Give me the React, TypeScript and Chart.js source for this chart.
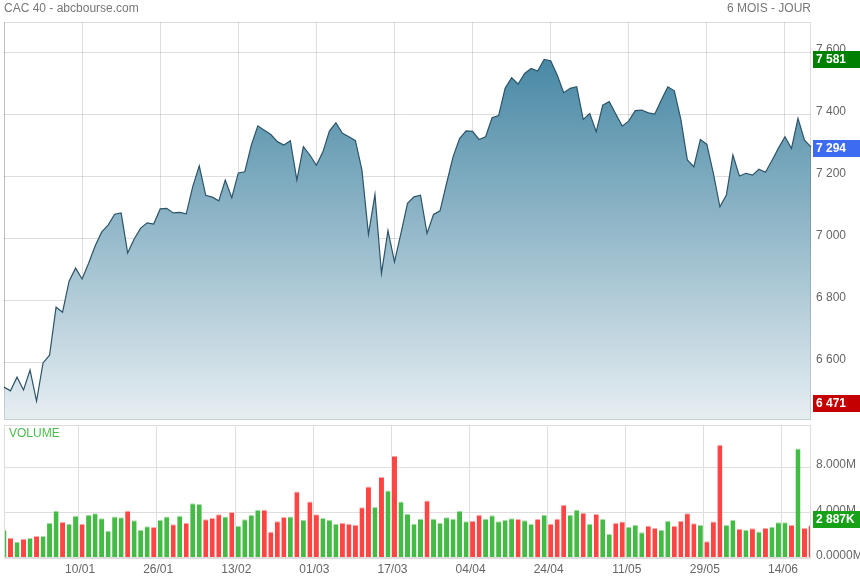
import React, { useEffect, useRef } from 'react';
import { Chart, registerables } from 'chart.js';
Chart.register(...registerables);

// ---- DATA ----
const dates: string[] = [
  '22/12','23/12','27/12','28/12','29/12','30/12',
  '02/01','03/01','04/01','05/01','06/01','09/01','10/01','11/01','12/01','13/01','16/01','17/01','18/01','19/01','20/01','23/01','24/01','25/01','26/01','27/01','30/01','31/01',
  '01/02','02/02','03/02','06/02','07/02','08/02','09/02','10/02','13/02','14/02','15/02','16/02','17/02','20/02','21/02','22/02','23/02','24/02','27/02','28/02',
  '01/03','02/03','03/03','06/03','07/03','08/03','09/03','10/03','13/03','14/03','15/03','16/03','17/03','20/03','21/03','22/03','23/03','24/03','27/03','28/03','29/03','30/03','31/03',
  '03/04','04/04','05/04','06/04','11/04','12/04','13/04','14/04','17/04','18/04','19/04','20/04','21/04','24/04','25/04','26/04','27/04','28/04',
  '02/05','03/05','04/05','05/05','08/05','09/05','10/05','11/05','12/05','15/05','16/05','17/05','18/05','19/05','22/05','23/05','24/05','25/05','26/05','29/05','30/05','31/05',
  '01/06','02/06','05/06','06/06','07/06','08/06','09/06','12/06','13/06','14/06','15/06','16/06','19/06','20/06',
];

const closes: number[] = [
  6519, 6507, 6551, 6510, 6574, 6474,
  6597, 6622, 6777, 6761, 6861, 6903, 6868, 6919, 6974, 7019, 7042, 7077, 7081, 6952, 6997, 7032, 7049, 7045, 7094, 7096, 7081, 7083,
  7078, 7166, 7233, 7138, 7132, 7120, 7187, 7130, 7210, 7214, 7300, 7362, 7348, 7334, 7311, 7300, 7314, 7187, 7295, 7268,
  7235, 7278, 7345, 7372, 7338, 7327, 7314, 7219, 7012, 7141, 6886, 7024, 6923, 7016, 7112, 7133, 7138, 7015, 7076, 7088, 7176, 7262, 7321,
  7346, 7344, 7318, 7327, 7388, 7395, 7483, 7517, 7497, 7531, 7547, 7539, 7576, 7572, 7526, 7469, 7483, 7488,
  7383, 7402, 7343, 7429, 7440, 7400, 7361, 7378, 7411, 7413, 7404, 7400, 7445, 7488, 7475, 7383, 7252, 7230, 7318, 7302, 7209, 7101,
  7139, 7268, 7200, 7209, 7203, 7222, 7212, 7250, 7290, 7327, 7289, 7386, 7316, 7294,
];

// volumes in millions
const volumes: number[] = [
  2.49, 1.79, 1.44, 1.70, 1.76, 1.93,
  1.93, 3.11, 4.16, 3.17, 3.02, 3.72, 3.02, 3.81, 3.93, 3.49, 2.40, 3.66, 3.58, 4.16, 3.31, 2.46, 2.79, 2.73, 3.37, 3.64, 2.96, 3.72,
  3.11, 4.81, 4.75, 3.40, 3.52, 3.84, 3.64, 4.05, 2.84, 3.40, 3.78, 4.25, 4.25, 2.32, 3.23, 3.61, 3.64, 5.84, 3.37, 4.98,
  3.84, 3.52, 3.37, 3.02, 3.11, 3.02, 2.93, 4.46, 6.28, 4.49, 7.13, 5.93, 9.00, 4.96, 3.90, 3.02, 3.46, 5.05, 3.46, 3.11, 3.58, 3.46, 4.16,
  3.23, 3.28, 3.81, 3.46, 3.75, 3.23, 3.37, 3.49, 3.43, 3.31, 3.00, 3.43, 3.81, 3.02, 3.46, 4.69, 3.81, 4.25,
  3.99, 3.02, 3.87, 3.43, 2.11, 3.08, 3.20, 2.76, 2.93, 2.26, 2.84, 2.64, 2.49, 3.28, 2.84, 3.28, 3.93, 3.05, 2.90, 1.47, 3.20, 9.96,
  2.90, 3.37, 2.58, 2.49, 2.61, 2.34, 2.64, 2.76, 3.14, 3.14, 2.90, 9.64, 2.64, 2.887,
];

const priceTicks: number[] = [6600, 6800, 7000, 7200, 7400, 7600];
const volTicks: number[] = [0, 4, 8];
const volTickLabels: string[] = ['0.0000M', '4.000M', '8.000M'];

const priceMarkerValues: number[] = [7581, 7294, 6471];
const volMarkerValue = 2.887;
const volMarkerText = '2 887K';

const titleLeft = 'CAC 40 - abcbourse.com';
const titleRight = '6 MOIS - JOUR';
const volumeTitle = 'VOLUME';

// ---- STYLE ----
const FONT = "'Liberation Sans', Arial, sans-serif";
const GRID_PRICE = 'rgba(0,0,0,0.13)';
const GRID_VOL = '#dedede';
const markerColors = ['#008000', '#3d6cf2', '#c40000'];
const volMarkerColor = '#17a117';
const UP = '#44bb44';
const DOWN = '#ff4444';
const UP_TOP = '#a6dfa6';
const DOWN_TOP = '#ffaaaa';

const fmtSpace = (v: number) =>
  Math.round(v).toString().replace(/\B(?=(\d{3})+(?!\d))/g, ' ');

const isUp = closes.map((c, i) => (i === 0 ? true : c > closes[i - 1]));

const noPad = (s: any) => {
  s.paddingTop = 0;
  s.paddingBottom = 0;
  s.paddingLeft = 0;
  s.paddingRight = 0;
};

const framePlugin = (color: string) => ({
  id: 'frame',
  afterDraw(chart: any) {
    const { ctx, chartArea: a } = chart;
    ctx.save();
    ctx.strokeStyle = color;
    ctx.lineWidth = 1;
    ctx.strokeRect(Math.round(a.left) + 0.5, Math.round(a.top) + 0.5, Math.round(a.right - a.left) - 1, Math.round(a.bottom - a.top) - 1);
    ctx.restore();
  },
});

const drawBox = (ctx: CanvasRenderingContext2D, yc: number, color: string, text: string) => {
  ctx.save();
  ctx.fillStyle = color;
  ctx.fillRect(813, Math.round(yc - 8.5), 47, 17);
  ctx.fillStyle = '#ffffff';
  ctx.font = `bold 12px ${FONT}`;
  ctx.textBaseline = 'middle';
  ctx.textAlign = 'left';
  ctx.fillText(text, 816, yc + 0.5);
  ctx.restore();
};

export default function App() {
  const priceRef = useRef<HTMLCanvasElement>(null);
  const volRef = useRef<HTMLCanvasElement>(null);

  useEffect(() => {
    document.body.style.margin = '0';
    Chart.defaults.font.family = FONT;

    const priceTexts = {
      id: 'priceTexts',
      afterDraw(chart: any) {
        const { ctx } = chart;
        ctx.save();
        ctx.font = `12px ${FONT}`;
        ctx.fillStyle = '#777';
        ctx.textBaseline = 'middle';
        ctx.textAlign = 'left';
        ctx.fillText(titleLeft, 4, 9);
        ctx.textAlign = 'right';
        ctx.fillText(titleRight, 811, 9);
        ctx.restore();
        const ys = chart.scales.y;
        priceMarkerValues.forEach((v, i) => {
          drawBox(ctx, ys.getPixelForValue(v) + 1.3, markerColors[i], fmtSpace(v));
        });
      },
    };

    const volTexts = {
      id: 'volTexts',
      afterDraw(chart: any) {
        const { ctx } = chart;
        ctx.save();
        ctx.font = `12px ${FONT}`;
        ctx.fillStyle = '#4cbb4c';
        ctx.textBaseline = 'middle';
        ctx.textAlign = 'left';
        ctx.fillText(volumeTitle, 9, 11.5);
        ctx.restore();
        const ys = chart.scales.y;
        drawBox(ctx, ys.getPixelForValue(volMarkerValue) - 5.5, volMarkerColor, volMarkerText);
      },
    };

    const priceChart = new Chart(priceRef.current!, {
      type: 'line',
      data: {
        labels: dates,
        datasets: [
          {
            data: closes,
            borderColor: '#2c5468',
            borderWidth: 1.2,
            pointRadius: 0,
            tension: 0,
            fill: 'start',
            backgroundColor: (c: any) => {
              const area = c.chart.chartArea;
              if (!area) return 'rgba(100,150,180,0.5)';
              const g = c.chart.ctx.createLinearGradient(0, area.top, 0, area.bottom);
              g.addColorStop(0, 'rgb(56,126,157)');
              g.addColorStop(1, 'rgb(231,238,242)');
              return g;
            },
          },
        ],
      },
      options: {
        animation: false,
        responsive: false,
        maintainAspectRatio: false,
        events: [],
        layout: { padding: { top: 22, left: 4, right: 0, bottom: 2 } },
        plugins: { legend: { display: false }, tooltip: { enabled: false } },
        scales: {
          x: {
            type: 'category',
            offset: false,
            z: 1,
            border: { display: false },
            grid: {
              drawTicks: false,
              color: (c: any) => (c.index % 12 === 0 ? GRID_PRICE : 'rgba(0,0,0,0)'),
            },
            ticks: { display: false, autoSkip: false, maxRotation: 0 },
            afterFit: (s: any) => { s.height = 0; noPad(s); },
          },
          y: {
            position: 'right',
            min: 6413,
            max: 7697,
            z: 1,
            border: { display: false },
            grid: { drawTicks: false, color: GRID_PRICE },
            afterBuildTicks: (s: any) => { s.ticks = priceTicks.map((v) => ({ value: v })); },
            afterFit: (s: any) => { s.width = 49; noPad(s); },
            ticks: {
              padding: 5,
              labelOffset: -2,
              color: '#666',
              font: { size: 12, family: FONT },
              callback: (v: any) => fmtSpace(Number(v)),
            },
          },
        },
      },
      plugins: [framePlugin(GRID_PRICE), priceTexts],
    } as any);

    const volChart = new Chart(volRef.current!, {
      type: 'bar',
      data: {
        labels: dates,
        datasets: [
          {
            data: volumes,
            backgroundColor: isUp.map((u) => (u ? UP : DOWN)),
            borderColor: isUp.map((u) => (u ? UP_TOP : DOWN_TOP)),
            borderWidth: { top: 1, left: 0, right: 0, bottom: 0 },
            borderSkipped: false,
            barPercentage: 0.77,
            categoryPercentage: 1,
          },
        ],
      },
      options: {
        animation: false,
        responsive: false,
        maintainAspectRatio: false,
        events: [],
        layout: { padding: { top: 3, left: 4, right: 0, bottom: 0 } },
        plugins: { legend: { display: false }, tooltip: { enabled: false } },
        scales: {
          x: {
            type: 'category',
            offset: false,
            border: { display: false },
            grid: {
              drawTicks: false,
              color: (c: any) => (c.index % 12 === 0 ? GRID_VOL : 'rgba(0,0,0,0)'),
            },
            ticks: {
              autoSkip: false,
              maxRotation: 0,
              minRotation: 0,
              padding: 4,
              labelOffset: -2,
              color: '#666',
              font: { size: 12, family: FONT },
              callback: (_v: any, i: number) => (i % 12 === 0 && i > 0 ? dates[i] : ''),
            },
            afterFit: (s: any) => { s.height = 22; noPad(s); },
          },
          y: {
            position: 'right',
            min: 0,
            max: 11.7,
            border: { display: false },
            grid: { drawTicks: false, color: GRID_VOL },
            afterBuildTicks: (s: any) => { s.ticks = volTicks.map((v) => ({ value: v })); },
            afterFit: (s: any) => { s.width = 49; noPad(s); },
            ticks: {
              padding: 5,
              labelOffset: -2,
              color: '#666',
              font: { size: 12, family: FONT },
              callback: (v: any) => volTickLabels[volTicks.indexOf(Number(v))] ?? '',
            },
          },
        },
      },
      plugins: [framePlugin(GRID_VOL), volTexts],
    } as any);

    return () => {
      priceChart.destroy();
      volChart.destroy();
    };
  }, []);

  return (
    <div style={{ position: 'relative', width: 860, height: 580, background: '#ffffff', overflow: 'hidden' }}>
      <canvas ref={priceRef} width={860} height={422} style={{ position: 'absolute', left: 0, top: 0, width: 860, height: 422 }} />
      <canvas ref={volRef} width={860} height={158} style={{ position: 'absolute', left: 0, top: 422, width: 860, height: 158 }} />
    </div>
  );
}
